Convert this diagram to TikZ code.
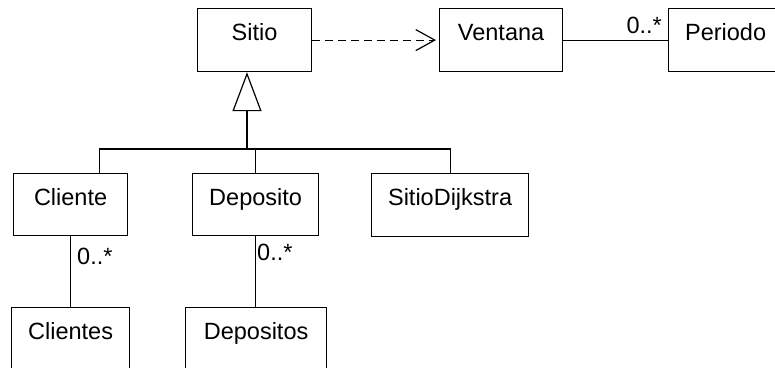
\documentclass[tikz,border=0pt]{standalone}
\usepackage{fontspec}
\setmainfont{Liberation Sans}
\usetikzlibrary{arrows.meta}

\tikzset{
  classbox/.style n args={3}{draw, line width=1.2pt, rectangle, anchor=north west,
    minimum width=#1, minimum height=#2, inner sep=0pt,
    label={[anchor=base, yshift=-32pt, inner sep=0pt]north:#3}},
  conn/.style={line width=1.2pt},
  mult/.style={inner sep=0pt},
}

\begin{document}
\begin{tikzpicture}[x=1pt, y=-1pt, font=\fontsize{23.5}{28}\selectfont]
  \useasboundingbox (0,0) rectangle (775,367);
  \clip (0,0) rectangle (775,367);

  % classes
  \node[classbox={114pt}{63pt}{Sitio}]         (sitio)     at (197,8)   {};
  \node[classbox={123pt}{63pt}{Ventana}]       (ventana)   at (439,8)   {};
  \node[classbox={114pt}{63pt}{Periodo}]       (periodo)   at (668,8)   {};
  \node[classbox={114pt}{62pt}{Cliente}]       (cliente)   at (13,173)  {};
  \node[classbox={126pt}{62pt}{Deposito}]      (deposito)  at (192,173) {};
  \node[classbox={157pt}{63pt}{SitioDijkstra}] (dijkstra)  at (371,173) {};
  \node[classbox={118pt}{63pt}{Clientes}]      (clientes)  at (11,307)  {};
  \node[classbox={141pt}{63pt}{Depositos}]     (depositos) at (185,307) {};

  % dependency Sitio -> Ventana
  \draw[conn, dash pattern=on 8pt off 5pt, shorten >=3pt,
        -{Straight Barb[length=19pt, width=21pt, line width=1.2pt]}]
    (sitio.east) -- (ventana.west);

  % association Ventana - Periodo
  \draw[conn] (ventana.east) -- (periodo.west);
  \node[mult, anchor=base east] (mPeriodo) at (662,33) {0..*};

  % generalization tree
  \coordinate (bus) at (247,149);
  \draw[conn, -{Triangle[open, length=39pt, width=29pt, line width=1.2pt, fill=white]}]
    (bus) -- (bus |- sitio.south);
  \draw[conn] ([xshift=29pt]cliente.north) |- (bus) -| (dijkstra.north);
  \draw[conn] (deposito.north) -- (deposito.north |- bus);

  % associations to collections
  \draw[conn] (cliente.south) -- (cliente.south |- clientes.north);
  \node[mult, anchor=base west] (mClientes) at (77,264) {0..*};
  \draw[conn] (deposito.south) -- (deposito.south |- depositos.north);
  \node[mult, anchor=base west] (mDepositos) at (257,260) {0..*};
\end{tikzpicture}
\end{document}
